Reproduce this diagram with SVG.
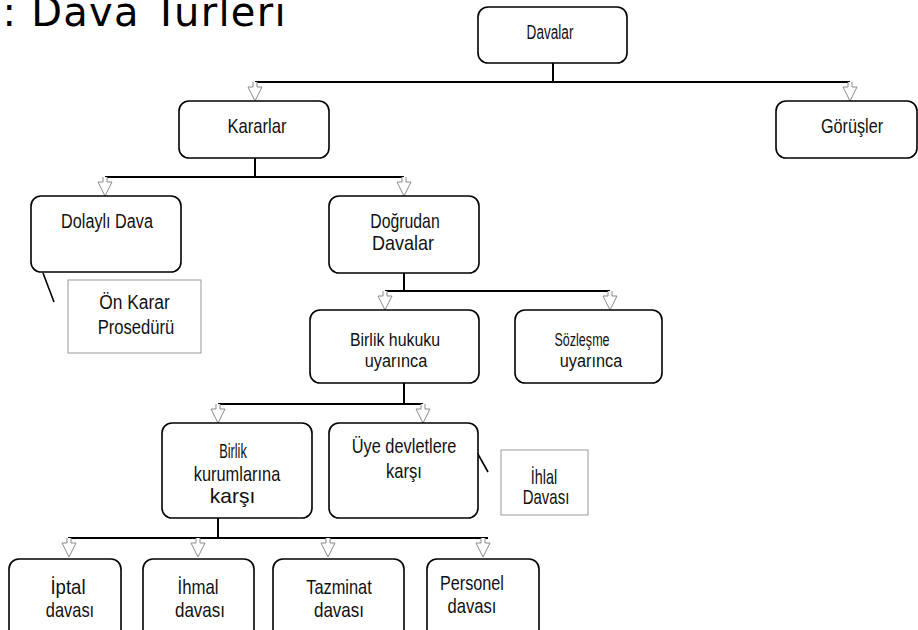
<svg xmlns="http://www.w3.org/2000/svg" width="918" height="630" viewBox="0 0 918 630">
<style>
.node rect{fill:#fff;stroke:#000;stroke-width:1.6}
.note rect{fill:#fff;stroke:#999;stroke-width:1}
text{font-family:"Liberation Sans",Arial,sans-serif;font-size:20px;fill:#111;text-anchor:middle}
.sm{font-size:18.5px}
.title{font-family:"DejaVu Sans",sans-serif;font-size:40px;text-anchor:start;fill:#000}
.ln{stroke:#000;stroke-width:2;fill:none}
.co{stroke:#000;stroke-width:1.6}
</style>
<defs>
<path id="arr" d="M-2,-19 V-14 H-7 L0,0 L7,-14 H2 V-19" fill="#fff" stroke="#8a8a8a" stroke-width="1"/>
</defs>
<rect width="918" height="630" fill="#fff"/>
<text class="title" x="2.5" y="26" textLength="283" lengthAdjust="spacing">: Dava Türleri</text>

<g id="connectors">
<path class="ln" d="M553,63 V82 M255,82 H850"/>
<path class="ln" d="M255,158 V177 M105,177 H404"/>
<path class="ln" d="M404,273 V291 M385,291 H610"/>
<path class="ln" d="M404,383 V404 M218,404 H423"/>
<path class="ln" d="M218,518 V538 M68,538 H488"/>
<use href="#arr" x="255" y="101"/>
<use href="#arr" x="850" y="101"/>
<use href="#arr" x="105" y="196"/>
<use href="#arr" x="404" y="196"/>
<use href="#arr" x="385" y="310"/>
<use href="#arr" x="610" y="310"/>
<use href="#arr" x="218" y="423"/>
<use href="#arr" x="423" y="423"/>
<use href="#arr" x="69" y="557"/>
<use href="#arr" x="198" y="557"/>
<use href="#arr" x="328" y="557"/>
<use href="#arr" x="483" y="557"/>
<line class="co" x1="43" y1="273" x2="54" y2="302"/>
<line class="co" x1="474" y1="447" x2="488" y2="472"/>
</g>

<g id="davalar" class="node"><rect x="478" y="7" width="149" height="56" rx="10"/>
<text transform="translate(550,39) scale(0.68,1)">Davalar</text></g>

<g id="kararlar" class="node"><rect x="179" y="101" width="150" height="57" rx="10"/>
<text transform="translate(257,133) scale(0.83,1)">Kararlar</text></g>

<g id="gorusler" class="node"><rect x="776" y="101" width="141" height="57" rx="10"/>
<text transform="translate(852,133) scale(0.81,1)">Görüşler</text></g>

<g id="dolayli" class="node"><rect x="31" y="196" width="150" height="76" rx="10"/>
<text transform="translate(107,228) scale(0.81,1)">Dolaylı Dava</text></g>

<g id="onkarar" class="note"><rect x="68" y="280" width="133" height="73"/>
<text transform="translate(134.5,309) scale(0.87,1)">Ön Karar</text>
<text transform="translate(136,334) scale(0.83,1)">Prosedürü</text></g>

<g id="dogrudan" class="node"><rect x="329" y="196" width="150" height="77" rx="10"/>
<text transform="translate(405,228) scale(0.79,1)">Doğrudan</text>
<text transform="translate(403,250) scale(0.9,1)">Davalar</text></g>

<g id="birlikhukuku" class="node"><rect x="310" y="310" width="169" height="73" rx="10"/>
<text class="sm" transform="translate(395,346) scale(0.86,1)">Birlik hukuku</text>
<text class="sm" transform="translate(396,367) scale(0.88,1)">uyarınca</text></g>

<g id="sozlesme" class="node"><rect x="515" y="310" width="147" height="73" rx="10"/>
<text class="sm" transform="translate(582,346) scale(0.68,1)">Sözleşme</text>
<text class="sm" transform="translate(591,367) scale(0.88,1)">uyarınca</text></g>

<g id="kurumlar" class="node"><rect x="162" y="423" width="150" height="95" rx="10"/>
<text transform="translate(233,458) scale(0.64,1)">Birlik</text>
<text transform="translate(237,481) scale(0.82,1)">kurumlarına</text>
<text transform="translate(232.5,503) scale(1.05,1)">karşı</text></g>

<g id="uyedevletler" class="node"><rect x="329" y="423" width="149" height="95" rx="10"/>
<text transform="translate(404,453) scale(0.82,1)">Üye devletlere</text>
<text transform="translate(404,478) scale(0.83,1)">karşı</text></g>

<g id="ihlal" class="note"><rect x="501" y="450" width="87" height="65"/>
<text transform="translate(544,484) scale(0.72,1)" font-size="18">İhlal</text>
<text transform="translate(546,504) scale(0.75,1)" font-size="18">Davası</text></g>

<g id="iptal" class="node"><rect x="9" y="559" width="112" height="90" rx="10"/>
<text transform="translate(68,594) scale(0.93,1)">İptal</text>
<text transform="translate(70,617) scale(0.82,1)">davası</text></g>

<g id="ihmal" class="node"><rect x="143" y="559" width="111" height="90" rx="10"/>
<text transform="translate(198,594) scale(0.84,1)">İhmal</text>
<text transform="translate(200,617) scale(0.85,1)">davası</text></g>

<g id="tazminat" class="node"><rect x="273" y="559" width="131" height="90" rx="10"/>
<text transform="translate(339,594) scale(0.82,1)">Tazminat</text>
<text transform="translate(339,617) scale(0.85,1)">davası</text></g>

<g id="personel" class="node"><rect x="427" y="559" width="112" height="90" rx="10"/>
<text transform="translate(472,590) scale(0.81,1)">Personel</text>
<text transform="translate(472,613) scale(0.83,1)">davası</text></g>
</svg>
